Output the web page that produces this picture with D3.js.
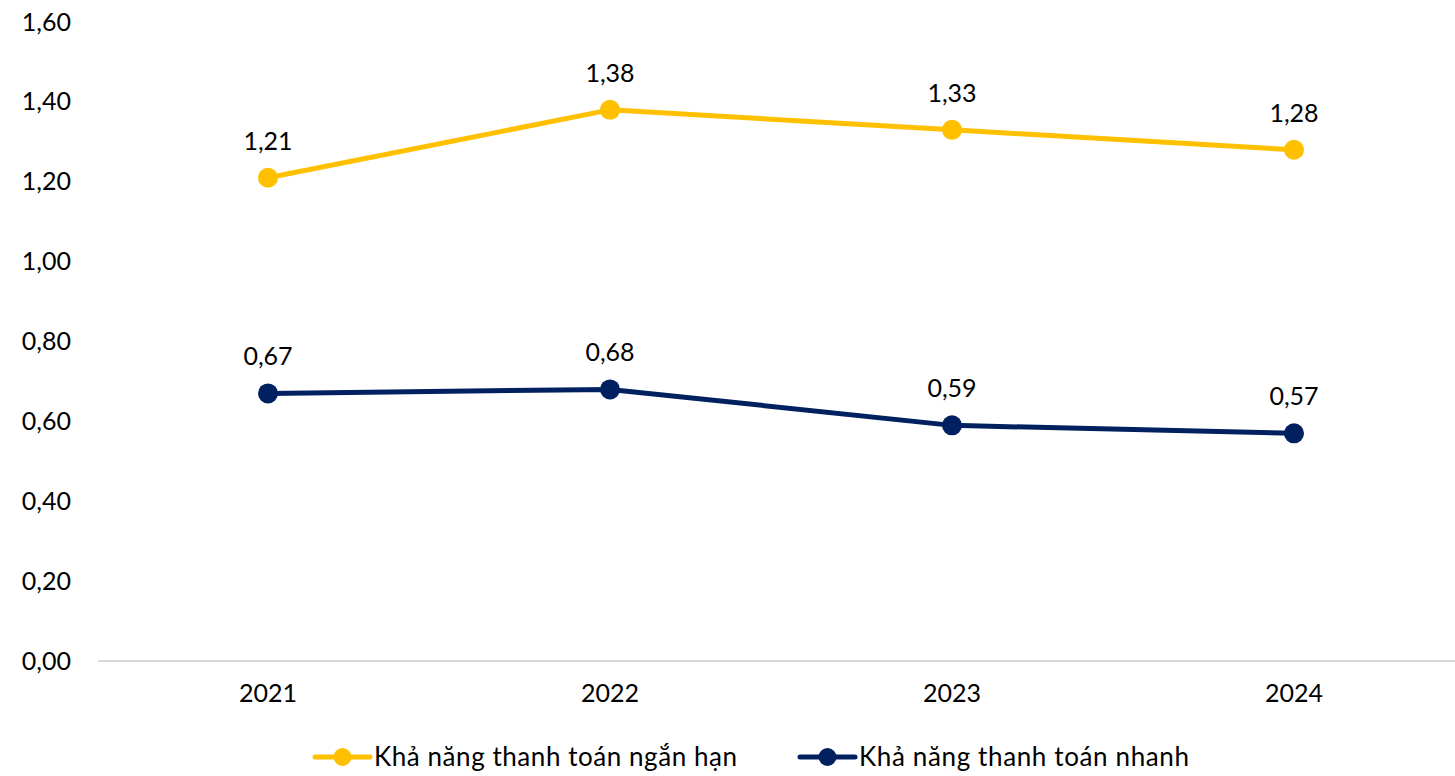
<!DOCTYPE html>
<html><head><meta charset="utf-8">
<script src="https://cdn.jsdelivr.net/npm/d3@7"></script>
<style>body{margin:0;background:#fff;}svg text{font-family:Lato,"Open Sans",sans-serif;fill:#000;}</style>
</head><body>
<svg id="c" width="1455" height="776"></svg>
<script>
const years = ["2021","2022","2023","2024"];
const shortTerm = [1.21,1.38,1.33,1.28];
const quick = [0.67,0.68,0.59,0.57];
const seriesNames = ["Khả năng thanh toán ngắn hạn","Khả năng thanh toán nhanh"];
const yTicks = [0,0.2,0.4,0.6,0.8,1.0,1.2,1.4,1.6];
const colors = ["#FFC000","#002060"];

const svg = d3.select("#c");
const fs = 25;
const x = d3.scaleBand().domain(years).range([97,1465]);
const y = d3.scaleLinear().domain([0,1.6]).range([661,22]);
const fmt = v => d3.format(".2f")(v).replace(".",",");

// y labels
const ya = svg.append("g").attr("transform","translate(71,0)")
  .call(d3.axisLeft(y).tickValues(yTicks).tickFormat(fmt).tickSize(0).tickPadding(0));
ya.select(".domain").remove();
ya.selectAll("text").attr("font-size",fs).attr("font-family","Lato").attr("fill","#000");

// x axis
const xa = svg.append("g").attr("transform","translate(0,661)")
  .call(d3.axisBottom(x).tickSize(0).tickPadding(23));
xa.select(".domain").attr("stroke","#d9d9d9").attr("stroke-width",2).attr("d","M98,0H1455");
xa.selectAll("text").attr("font-size",fs).attr("font-family","Lato").attr("fill","#000");

const cx = d => x(d)+x.bandwidth()/2;
[shortTerm,quick].forEach((vals,i)=>{
  const pts = years.map((yr,j)=>({yr,v:vals[j]}));
  svg.append("path").datum(pts)
    .attr("fill","none").attr("stroke",colors[i]).attr("stroke-width",5).attr("stroke-linejoin","round")
    .attr("d",d3.line().x(d=>cx(d.yr)).y(d=>y(d.v)));
  svg.selectAll(null).data(pts).enter().append("circle")
    .attr("cx",d=>cx(d.yr)).attr("cy",d=>y(d.v)).attr("r",10).attr("fill",colors[i]);
  svg.selectAll(null).data(pts).enter().append("text")
    .attr("x",d=>cx(d.yr)).attr("y",d=>y(d.v)-28).attr("text-anchor","middle")
    .attr("font-size",fs).text(d=>fmt(d.v));
});

// legend
const legX = [315,800];
seriesNames.forEach((n,i)=>{
  const g = svg.append("g").attr("transform",`translate(${legX[i]},757)`);
  g.append("line").attr("x1",0).attr("x2",55).attr("stroke",colors[i]).attr("stroke-width",5).attr("stroke-linecap","round");
  g.append("circle").attr("cx",27.5).attr("r",9).attr("fill",colors[i]);
  g.append("text").attr("x",59).attr("dy","0.35em").attr("font-size",26).attr("textLength",n.length>26?363:330).attr("lengthAdjust","spacing").text(n);
});
</script>
</body></html>
